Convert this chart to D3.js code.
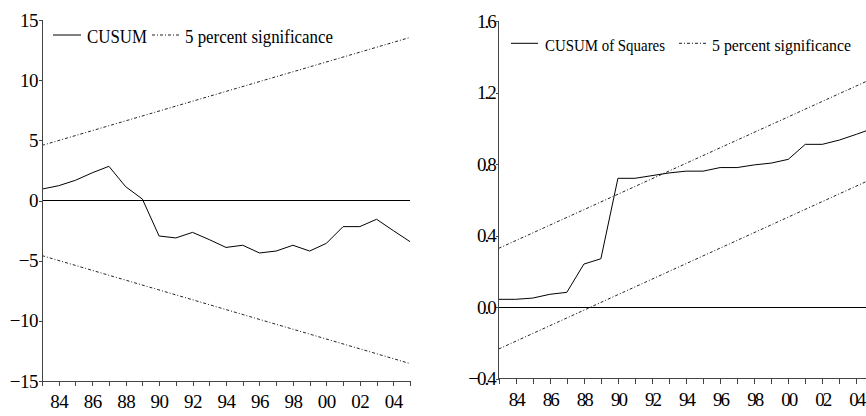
<!DOCTYPE html>
<html>
<head>
<meta charset="utf-8">
<script src="https://cdn.jsdelivr.net/npm/d3@7"></script>
<style>
  body { margin: 0; background: #fff; }
  svg { display: block; font-family: "Liberation Serif", "Times New Roman", serif; }
  .axis path, .axis line { stroke: #444; shape-rendering: crispEdges; }
  .axis text { fill: #000; font-size: 19px; font-family: "Liberation Serif", "Times New Roman", serif; }
</style>
</head>
<body>
<svg id="chart" width="866" height="416"></svg>
<script>
// years of the recursive residuals
const years = d3.range(1983, 2006);

// CUSUM test
const cusum = [0.95, 1.23, 1.68, 2.3, 2.84, 1.15, 0.12, -2.95, -3.11, -2.65, -3.25, -3.9,
  -3.72, -4.36, -4.2, -3.72, -4.2, -3.56, -2.17, -2.17, -1.56, -2.5, -3.42];
const cusumBoundYears = [1983, 2005];
const cusumUpper = [4.58, 13.55];
const cusumLower = [-4.58, -13.55];
const cusumTicks = [-15, -10, -5, 0, 5, 10, 15];

// CUSUM of squares test
const cusumSq = [0.043, 0.043, 0.05, 0.071, 0.082, 0.24, 0.27, 0.72, 0.72, 0.735, 0.75, 0.76,
  0.76, 0.78, 0.78, 0.795, 0.805, 0.826, 0.91, 0.91, 0.934, 0.966, 1.0];
const sqBoundYears = [1983, 2005];
const sqUpper = [0.328, 1.28];
const sqLower = [-0.235, 0.72];
const sqTicks = [-0.4, 0.0, 0.4, 0.8, 1.2, 1.6];

const svg = d3.select("#chart");
const dash = "3,2,1,2";

function drawPanel(opts) {
  const x = d3.scaleLinear().domain([1983, 2005]).range([opts.left, opts.right]);
  const y = d3.scaleLinear().domain(opts.yDomain).range([opts.bottom, opts.top]);
  const g = svg.append("g");

  // zero line
  g.append("line")
    .attr("x1", x(1983)).attr("x2", x(2005))
    .attr("y1", y(0)).attr("y2", y(0))
    .attr("stroke", "#000").attr("stroke-width", 1)
    .attr("shape-rendering", "crispEdges");

  const line = d3.line().x(d => x(d[0])).y(d => y(d[1]));

  // significance bounds
  [opts.upper, opts.lower].forEach(b => {
    g.append("path")
      .datum(opts.boundYears.map((yr, i) => [yr, b[i]]))
      .attr("fill", "none")
      .attr("stroke", "#222")
      .attr("stroke-width", 1)
      .attr("stroke-dasharray", dash)
      .attr("d", line);
  });

  // test statistic
  g.append("path")
    .datum(years.map((yr, i) => [yr, opts.values[i]]))
    .attr("fill", "none")
    .attr("stroke", "#000")
    .attr("stroke-width", 1)
    .attr("d", line);

  // axes
  const yAxis = d3.axisLeft(y)
    .tickValues(opts.yTicks)
    .tickSize(3)
    .tickPadding(1)
    .tickFormat(opts.yFormat);
  const yG = g.append("g").attr("class", "axis")
    .attr("transform", `translate(${opts.left},0)`)
    .call(yAxis)
    .attr("font-family", null).attr("font-size", null);
  yG.select(".domain").attr("d", `M-0,${opts.top}V${opts.bottom}`);
  yG.selectAll("text").style("letter-spacing", opts.ls + "px");

  const xAxis = d3.axisBottom(x)
    .tickValues(years)
    .tickSize(5)
    .tickPadding(9)
    .tickFormat(d => d % 2 === 0 ? String(d).slice(2) : "");
  const xG = g.append("g").attr("class", "axis")
    .attr("transform", `translate(0,${opts.bottom})`)
    .call(xAxis)
    .attr("font-family", null).attr("font-size", null);
  xG.select(".domain").attr("d", `M${opts.left},0H${opts.right}`);
  xG.selectAll("text").style("letter-spacing", opts.ls + "px");

  // legend
  const lg = g.append("g");
  const L = opts.legend;
  lg.append("line")
    .attr("x1", L.l1[0]).attr("x2", L.l1[1]).attr("y1", L.y).attr("y2", L.y)
    .attr("stroke", "#000");
  lg.append("text")
    .attr("x", L.t1[0]).attr("y", L.y + 7.5)
    .attr("font-size", L.fs)
    .attr("textLength", L.t1[1]).attr("lengthAdjust", "spacingAndGlyphs")
    .text(L.label);
  lg.append("line")
    .attr("x1", L.l2[0]).attr("x2", L.l2[1]).attr("y1", L.y).attr("y2", L.y)
    .attr("stroke", "#222").attr("stroke-dasharray", dash);
  lg.append("text")
    .attr("x", L.t2[0]).attr("y", L.y + 7.5)
    .attr("font-size", L.fs)
    .attr("textLength", L.t2[1]).attr("lengthAdjust", "spacingAndGlyphs")
    .text("5 percent significance");
}

drawPanel({
  left: 42, right: 410, top: 20, bottom: 381,
  yDomain: [-15, 15], yTicks: cusumTicks, yFormat: d3.format("d"), ls: -0.5,
  values: cusum, boundYears: cusumBoundYears, upper: cusumUpper, lower: cusumLower,
  legend: { y: 35, fs: 19, l1: [53, 81], t1: [87, 60], l2: [152, 180], t2: [185, 148], label: "CUSUM" }
});

drawPanel({
  left: 498.7, right: 873.4, top: 21, bottom: 378.5,
  yDomain: [-0.4, 1.6], yTicks: sqTicks, yFormat: d3.format(".1f"), ls: -2,
  values: cusumSq, boundYears: sqBoundYears, upper: sqUpper, lower: sqLower,
  legend: { y: 43.3, fs: 16.5, l1: [511, 538], t1: [545, 120], l2: [679, 707], t2: [712, 139], label: "CUSUM of Squares" }
});
</script>
</body>
</html>
